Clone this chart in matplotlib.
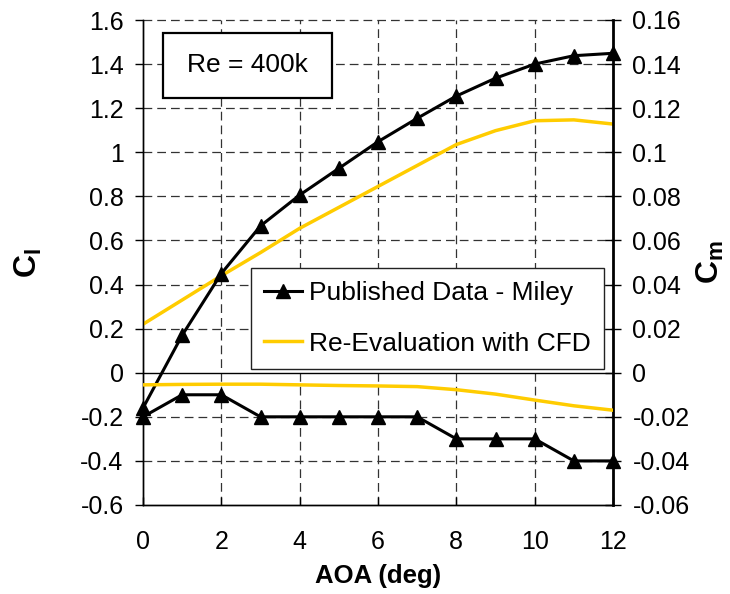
import matplotlib
matplotlib.use("Agg")
import matplotlib.pyplot as plt
from matplotlib.lines import Line2D
from matplotlib.patches import Rectangle

plt.rcParams['font.family'] = ['Liberation Sans', 'DejaVu Sans']
plt.rcParams['mathtext.fontset'] = 'custom'
plt.rcParams['mathtext.rm'] = 'Liberation Sans'
plt.rcParams['mathtext.bf'] = 'Liberation Sans:bold'

aoa = [0, 1, 2, 3, 4, 5, 6, 7, 8, 9, 10, 11, 12]
cl_miley = [-0.16, 0.17, 0.45, 0.666, 0.806, 0.927, 1.048, 1.154, 1.255, 1.336, 1.40, 1.438, 1.449]
cm_miley = [-0.02, -0.01, -0.01, -0.02, -0.02, -0.02, -0.02, -0.02, -0.03, -0.03, -0.03, -0.04, -0.04]
cl_cfd = [0.22, 0.33, 0.44, 0.545, 0.655, 0.75, 0.845, 0.94, 1.035, 1.098, 1.143, 1.147, 1.128]
cm_cfd = [-0.0055, -0.0053, -0.0052, -0.0052, -0.0055, -0.0058, -0.006, -0.0063, -0.0077, -0.0097, -0.0124, -0.015, -0.017]

xticks = [0, 2, 4, 6, 8, 10, 12]
cl_ticks = [-0.6, -0.4, -0.2, 0, 0.2, 0.4, 0.6, 0.8, 1, 1.2, 1.4, 1.6]
cm_ticks = [-0.06, -0.04, -0.02, 0, 0.02, 0.04, 0.06, 0.08, 0.1, 0.12, 0.14, 0.16]

black = '#000000'
yellow = '#FFCC00'
gridc = '#333333'
dash = (0, (7, 4))

fig = plt.figure(figsize=(7.30, 5.94), dpi=100)
ax = fig.add_axes([143/730, 1 - 505/594, 470/730, 485/594])
ax2 = ax.twinx()

ax.set_xlim(0, 12)
ax.set_ylim(-0.6, 1.6)
ax2.set_ylim(-0.06, 0.16)

# grid
for xv in xticks[1:-1]:
    ax.axvline(xv, color=gridc, lw=0.9, ls=dash, zorder=0)
for yv in cl_ticks[1:]:
    if yv == 0:
        ax.axhline(yv, color='black', lw=1.0, zorder=0)
    else:
        ax.axhline(yv, color=gridc, lw=0.9, ls=dash, zorder=0, clip_on=False)

ax.plot(aoa, cl_cfd, color=yellow, lw=2.5, zorder=3)
ax.plot(aoa, cl_miley, color=black, lw=2.2, marker='^', ms=10.5, zorder=4, clip_on=False)
ax2.plot(aoa, cm_cfd, color=yellow, lw=2.5, zorder=3)
ax2.plot(aoa, cm_miley, color=black, lw=2.2, marker='^', ms=10.5, zorder=4, clip_on=False)

ax.set_xticks(xticks)
ax.set_xticklabels([str(v) for v in xticks])
ax.set_yticks(cl_ticks)
ax.set_yticklabels([('%g' % v) for v in cl_ticks])
ax2.set_yticks(cm_ticks)
ax2.set_yticklabels([('%g' % v) for v in cm_ticks])

ax.tick_params(axis='x', direction='in', length=6, width=1, labelsize=18, pad=18)
ax.tick_params(axis='y', direction='out', length=6, width=1, labelsize=18, pad=8)
ax2.tick_params(axis='y', direction='inout', length=12, width=1, labelsize=18, pad=8)

for a in (ax, ax2):
    a.spines['top'].set_visible(False)
    a.spines['left'].set_linewidth(1.0)
    a.spines['bottom'].set_linewidth(1.0)
ax2.spines['right'].set_linewidth(2.0)
ax.spines['right'].set_visible(False)

ax.set_xlabel('AOA (deg)', fontsize=18.5, fontweight='bold', labelpad=7)
ax.set_ylabel(r'$\mathbf{C_l}$', fontsize=23, labelpad=26)
ax2.set_ylabel(r'$\mathbf{C_m}$', fontsize=23, labelpad=4)

# Re box
ax.add_patch(Rectangle(((163 - 143) / 470, (505 - 98) / 485), 169 / 470, 65 / 485,
                       transform=ax.transAxes, fill=True, facecolor='white',
                       edgecolor='black', lw=1.6, zorder=5))
ax.text((247.5 - 143) / 470, (505 - 65.5) / 485, 'Re = 400k', transform=ax.transAxes,
        ha='center', va='center', fontsize=19, zorder=6)

handles = [Line2D([], [], color=black, lw=2.2, marker='^', ms=10.5),
           Line2D([], [], color=yellow, lw=2.5)]
leg = ax2.legend(handles, ['Published Data - Miley', 'Re-Evaluation with CFD'],
                 loc='upper left', bbox_to_anchor=((251 - 143) / 470, (505 - 268) / 485),
                 fontsize=19, fancybox=False, framealpha=1, edgecolor='#222222',
                 handlelength=1.45, handletextpad=0.25, borderpad=0.5, labelspacing=1.0,
                 borderaxespad=0)
leg.get_frame().set_linewidth(1.0)
leg.set_zorder(10)

fig.savefig('out.png', dpi=100)
